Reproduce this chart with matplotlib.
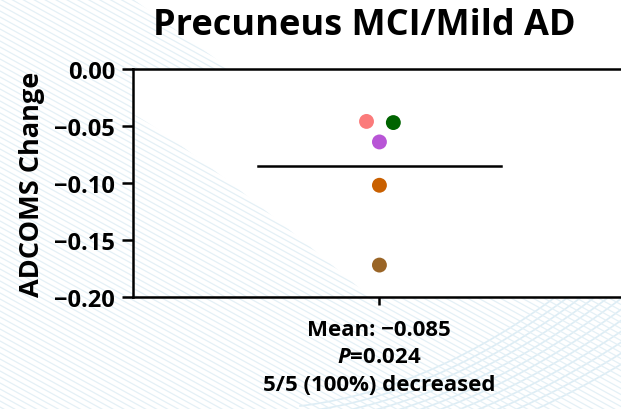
import matplotlib

matplotlib.use("Agg")
import matplotlib.pyplot as plt
import numpy as np

# values
subjects = ["s1", "s2", "s3", "s4", "s5"]
changes = [-0.046, -0.047, -0.064, -0.102, -0.172]
jitter = [-0.052, 0.056, 0.0, 0.0, 0.0]
colors = ["#fb7b7b", "#006400", "#b855d6", "#c96000", "#9a6526"]
mean_change = -0.085
yticks = [0.00, -0.05, -0.10, -0.15, -0.20]
caption = ["Mean: \u22120.085", "$\\bfit{P}$=0.024", "5/5 (100%) decreased"]

plt.rcParams["font.family"] = ["Open Sans", "DejaVu Sans"]
plt.rcParams["font.weight"] = "bold"
plt.rcParams["mathtext.fontset"] = "custom"
plt.rcParams["mathtext.bfit"] = "Open Sans:italic:bold"

fig = plt.figure(figsize=(6.21, 4.10), dpi=100)

# faint decorative stripes behind everything (pixel coords, y down)
bg = fig.add_axes([0, 0, 1, 1], zorder=0)
bg.set_xlim(0, 621)
bg.set_ylim(410, 0)
bg.axis("off")
for k in np.arange(-600, 700, 6):
    xs = np.array([0.0, 621.0])
    bg.plot(xs, k + 0.55 * xs, color="#e4f0f6", lw=0.9)
for j in range(12):
    t = np.linspace(300, 621, 60)
    bg.plot(t, 410 + j * 6 - 0.0012 * (t - 250) ** 2 * (1 - j * 0.03),
            color="#ddedf5", lw=1.2, zorder=1)
# white over the plot area except its lower-left corner, and top-right
cx = np.linspace(133, 370, 30)
cy = 115 + (298 - 115) * ((cx - 133) / (370 - 133)) ** 1.1
bg.fill(np.r_[133, 621, 621, cx[::-1]], np.r_[70, 70, 298, cy[::-1]],
        color="white", lw=0, zorder=4)
bg.fill([133, 621, 621, 230], [0, 0, 70, 70], color="white", lw=0, zorder=4)

ax = fig.add_axes([0.2142, 0.2732, 0.80, 0.5561], zorder=1)
ax.patch.set_alpha(0)
for i in range(len(subjects)):
    ax.scatter(jitter[i], changes[i], s=115, color=colors[i], zorder=3,
               edgecolors="none")
ax.plot([-0.49, 0.49], [mean_change, mean_change], color="black", lw=1.8)

ax.set_xlim(-0.992, 1.008)
ax.set_ylim(-0.20, 0.00)
ax.set_yticks(yticks)
ax.set_yticklabels(["0.00"] + ["\u2212%.2f" % abs(v) for v in yticks[1:]],
                   fontsize=17, fontweight="bold")
ax.set_xticks([0])
ax.set_xticklabels([""])
ax.tick_params(axis="y", length=8, width=1.8, pad=5)
ax.tick_params(axis="x", length=6, width=1.8)
for side in ["left", "top", "bottom"]:
    ax.spines[side].set_linewidth(1.8)
ax.spines["right"].set_visible(False)
ax.set_ylabel("ADCOMS Change", fontsize=19.5, fontweight="bold", va="center")
ax.yaxis.set_label_coords(-0.204, 0.5)

fig.text(0.586, 0.915, "Precuneus MCI/Mild AD", ha="center", va="baseline",
         fontsize=26, fontweight="bold")
for i, line in enumerate(caption):
    fig.text(0.610, 0.195 - i * 0.068, line, ha="center", va="center",
             fontsize=16, fontweight="bold")

fig.savefig("out.png", dpi=100)
